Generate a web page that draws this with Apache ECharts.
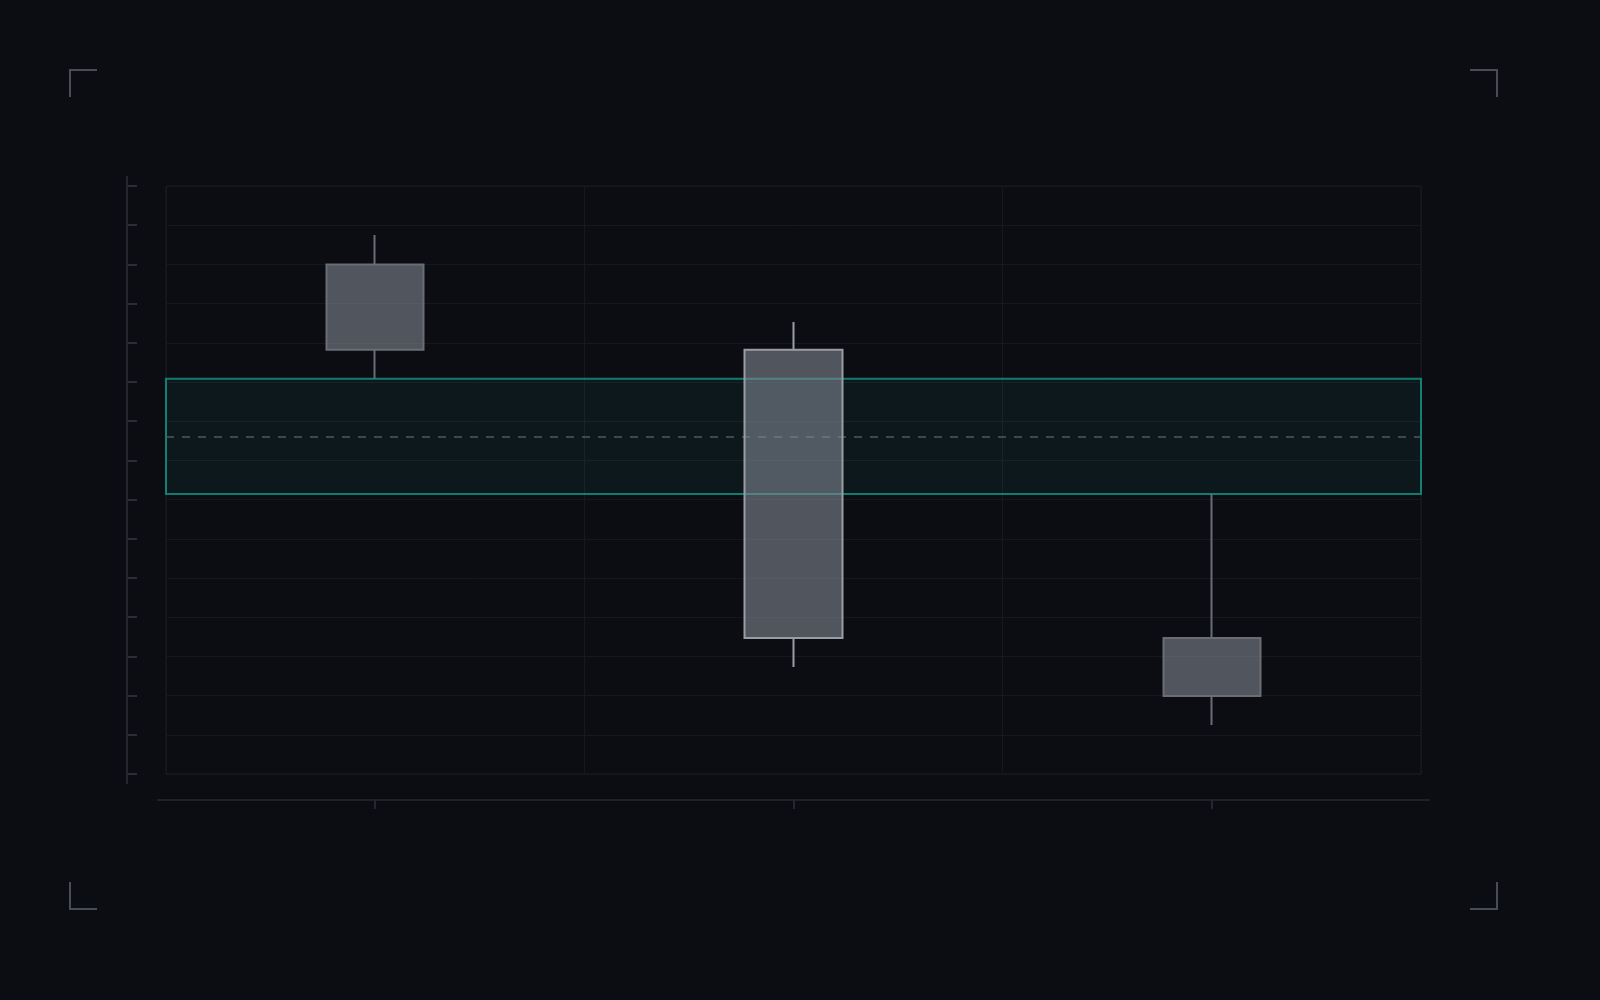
<!DOCTYPE html>
<html>
<head>
<meta charset="utf-8">
<script src="https://cdn.jsdelivr.net/npm/echarts@6/dist/echarts.min.js"></script>
<style>
html,body{margin:0;padding:0;background:#0b0d12;}
#c{width:1600px;height:1000px;}
</style>
</head>
<body>
<div id="c"></div>
<script>
const categories = ['1', '2', '3'];
const opens  = [13.0, 10.82, 3.47];
const closes = [10.82, 3.47, 1.99];
const lows   = [10.08, 2.73, 1.25];
const highs  = [13.75, 11.53, 7.14];
const bandLow = 7.14;
const bandHigh = 10.08;
const midLevel = 8.61;
const yMin = 0, yMax = 15, yInterval = 1;

const chart = echarts.init(document.getElementById('c'));

const candleFill = 'rgba(129,135,145,0.6)';
const candleData = categories.map((c, i) => {
  const item = { value: [opens[i], closes[i], lows[i], highs[i]] };
  if (i === 1) {
    item.itemStyle = { color: candleFill, color0: candleFill, borderColor: '#9a9da4', borderColor0: '#9a9da4' };
  }
  return item;
});

const bracket = (pts) => ({
  type: 'polyline', silent: true, z: 10,
  shape: { points: pts },
  style: { stroke: '#474c55', lineWidth: 2, fill: null }
});

chart.setOption({
  backgroundColor: '#0b0d12',
  animation: false,
  grid: { left: 166, right: 179, top: 186, bottom: 226, show: true, borderColor: '#1a1c22', borderWidth: 1, backgroundColor: 'transparent' },
  xAxis: {
    type: 'category',
    data: categories,
    boundaryGap: true,
    position: 'bottom',
    offset: 26,
    axisLine: { show: false, onZero: false },
    axisTick: { show: true, alignWithLabel: true, length: 9, lineStyle: { color: '#2c3038', width: 1.5 } },
    axisLabel: { show: false },
    splitLine: { show: true, lineStyle: { color: '#16181e', width: 1 } }
  },
  yAxis: {
    type: 'value',
    min: yMin, max: yMax, interval: yInterval,
    offset: 39,
    axisLine: { show: false, onZero: false },
    axisTick: { show: true, inside: true, length: 10, lineStyle: { color: '#2a2e36', width: 2 } },
    axisLabel: { show: false },
    splitLine: { show: true, lineStyle: { color: '#16181e', width: 1 } }
  },
  series: [
    {
      type: 'line',
      data: [],
      z: 1,
      silent: true,
      markArea: {
        silent: true,
        z: 1,
        itemStyle: { color: 'rgba(20,160,150,0.08)', borderColor: 'rgba(20,170,150,0.7)', borderWidth: 2 },
        label: { show: false },
        data: [[{ yAxis: bandHigh }, { yAxis: bandLow }]]
      },
      markLine: {
        silent: true,
        z: 1,
        symbol: ['none', 'none'],
        label: { show: false },
        lineStyle: { color: '#525860', type: [8, 8], width: 1.5 },
        data: [{ yAxis: midLevel }]
      }
    },
    {
      type: 'candlestick',
      data: candleData,
      barWidth: 98,
      z: 3,
      itemStyle: { color: candleFill, color0: candleFill, borderColor: '#6a6d74', borderColor0: '#6a6d74', borderWidth: 2 }
    }
  ],
  graphic: [
    bracket([[70, 97], [70, 70], [97, 70]]),
    bracket([[1470, 70], [1497, 70], [1497, 97]]),
    bracket([[70, 882], [70, 909], [97, 909]]),
    bracket([[1470, 909], [1497, 909], [1497, 882]]),
    { type: 'line', silent: true, z: 10, shape: { x1: 127, y1: 176, x2: 127, y2: 784 }, style: { stroke: '#22262d', lineWidth: 2 } },
    { type: 'line', silent: true, z: 10, shape: { x1: 157, y1: 800, x2: 1430, y2: 800 }, style: { stroke: '#262a31', lineWidth: 1.5 } }
  ]
});
</script>
</body>
</html>
